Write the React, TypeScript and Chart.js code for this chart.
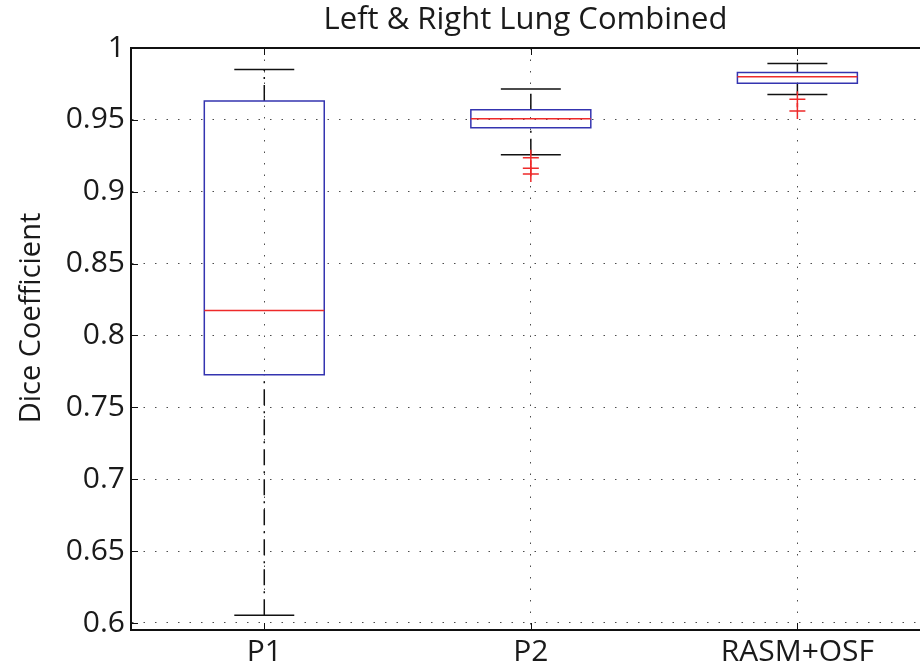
import React, { useEffect, useRef } from "react";
import { Chart, registerables } from "chart.js";

Chart.register(...registerables);

// ---- data ----
const categories = ["P1", "P2", "RASM+OSF"];
const whiskerHigh = [0.985, 0.9715, 0.9892];
const upperQuartile = [0.9631, 0.9571, 0.9829];
const medians = [0.8174, 0.9508, 0.98];
const lowerQuartile = [0.7726, 0.9445, 0.9754];
const whiskerLow = [0.6053, 0.9257, 0.9676];
const outliers: number[][] = [[], [0.9236, 0.9163, 0.9123], [0.9643, 0.9561]];
const yTicks = [0.6, 0.65, 0.7, 0.75, 0.8, 0.85, 0.9, 0.95, 1];
const yTickLabels = ["0.6", "0.65", "0.7", "0.75", "0.8", "0.85", "0.9", "0.95", "1"];
const chartTitle = "Left & Right Lung Combined";
const yAxisTitle = "Dice Coefficient";

// ---- style ----
const FONT = '"Open Sans", "DejaVu Sans", sans-serif';
const BOX_HALF = 0.225;
const CAP_HALF = 0.1125;
const BLUE = "#3434b0";
const RED = "#ee2a2a";
const BLACK = "#111111";
const TEXT = "#1a1a1a";

type P = { x: number; y: number | null };

function buildData() {
  const box: P[] = [];
  const med: P[] = [];
  const whisk: P[] = [];
  const caps: P[] = [];
  const outs: P[] = [];
  categories.forEach((_, i) => {
    const x = i + 1;
    box.push(
      { x: x - BOX_HALF, y: lowerQuartile[i] },
      { x: x + BOX_HALF, y: lowerQuartile[i] },
      { x: x + BOX_HALF, y: upperQuartile[i] },
      { x: x - BOX_HALF, y: upperQuartile[i] },
      { x: x - BOX_HALF, y: lowerQuartile[i] },
      { x, y: null }
    );
    med.push({ x: x - BOX_HALF, y: medians[i] }, { x: x + BOX_HALF, y: medians[i] }, { x, y: null });
    whisk.push(
      { x, y: upperQuartile[i] },
      { x, y: whiskerHigh[i] },
      { x, y: null },
      { x, y: whiskerLow[i] },
      { x, y: lowerQuartile[i] },
      { x, y: null }
    );
    caps.push(
      { x: x - CAP_HALF, y: whiskerHigh[i] },
      { x: x + CAP_HALF, y: whiskerHigh[i] },
      { x, y: null },
      { x: x - CAP_HALF, y: whiskerLow[i] },
      { x: x + CAP_HALF, y: whiskerLow[i] },
      { x, y: null }
    );
    outliers[i].forEach((v) => outs.push({ x, y: v }));
  });
  return { box, med, whisk, caps, outs };
}

const framePlugin = {
  id: "matlabFrame",
  afterDraw(chart: any) {
    const { ctx, chartArea } = chart;
    const { left, right, top, bottom } = chartArea;
    const xs = chart.scales.x;
    const ys = chart.scales.y;
    ctx.save();
    // top border
    ctx.strokeStyle = BLACK;
    ctx.lineWidth = 2;
    ctx.beginPath();
    ctx.moveTo(left - 1, top);
    ctx.lineTo(right, top);
    ctx.stroke();
    // inward ticks
    ctx.lineWidth = 1;
    ctx.beginPath();
    yTicks.forEach((v) => {
      const py = Math.round(ys.getPixelForValue(v)) + 0.5;
      ctx.moveTo(left, py);
      ctx.lineTo(left + 7, py);
    });
    categories.forEach((_, i) => {
      const px = Math.round(xs.getPixelForValue(i + 1)) + 0.5;
      ctx.moveTo(px, bottom);
      ctx.lineTo(px, bottom - 7);
      ctx.moveTo(px, top);
      ctx.lineTo(px, top + 7);
    });
    ctx.stroke();
    // y axis title
    ctx.fillStyle = TEXT;
    ctx.font = `29px ${FONT}`;
    ctx.textAlign = "center";
    ctx.textBaseline = "alphabetic";
    ctx.translate(40, (top + bottom) / 2 - 21);
    ctx.rotate(-Math.PI / 2);
    ctx.fillText(yAxisTitle, 0, 0);
    ctx.restore();
  },
};

export default function App() {
  const ref = useRef<HTMLCanvasElement | null>(null);
  useEffect(() => {
    if (!ref.current) return;
    const d = buildData();
    const lineBase = {
      type: "line" as const,
      showLine: true,
      pointRadius: 0,
      tension: 0,
      fill: false,
      spanGaps: false,
      borderWidth: 1.5,
      borderJoinStyle: "miter" as const,
    };
    const chart = new Chart(ref.current, {
      type: "line",
      data: {
        datasets: [
          { ...lineBase, label: "whiskers", data: d.whisk as any, borderColor: BLACK, borderDash: [16, 6, 2, 6], order: 5 },
          { ...lineBase, label: "caps", data: d.caps as any, borderColor: BLACK, order: 4 },
          { ...lineBase, label: "boxes", data: d.box as any, borderColor: BLUE, borderCapStyle: "square", order: 3 },
          { ...lineBase, label: "medians", data: d.med as any, borderColor: RED, order: 2 },
          {
            type: "line",
            label: "outliers",
            data: d.outs as any,
            showLine: false,
            pointStyle: "cross",
            pointRadius: 8,
            pointBorderColor: RED,
            pointBorderWidth: 1.5,
            pointBackgroundColor: RED,
            order: 1,
          },
        ],
      },
      options: {
        animation: false,
        responsive: false,
        maintainAspectRatio: false,
        layout: { padding: 0, autoPadding: false },
        plugins: {
          legend: { display: false },
          tooltip: { enabled: false },
          title: {
            display: true,
            text: chartTitle,
            fullSize: false,
            color: TEXT,
            font: { family: FONT, size: 31, weight: "normal" },
            padding: { top: 2, bottom: 8.8 },
          },
        },
        scales: {
          x: {
            type: "linear",
            min: 0.5,
            max: 3.46,
            bounds: "data",
            afterBuildTicks: (s: any) => {
              s.ticks = categories.map((_, i) => ({ value: i + 1 }));
            },
            afterFit: (s: any) => {
              s.height = 37;
              s.paddingLeft = 0;
              s.paddingRight = 0;
            },
            ticks: {
              autoSkip: false,
              maxRotation: 0,
              padding: 4,
              color: TEXT,
              font: { family: FONT, size: 30 },
              callback: (_v: any, i: number) => categories[i],
            },
            grid: { drawTicks: false, color: "rgba(0,0,0,0.7)", lineWidth: 1 },
            border: { display: true, color: BLACK, width: 2, dash: [1.5, 10] },
          },
          y: {
            type: "linear",
            min: 0.5951,
            max: 1,
            bounds: "data",
            afterBuildTicks: (s: any) => {
              s.ticks = yTicks.map((v) => ({ value: v }));
            },
            afterFit: (s: any) => {
              s.width = 131;
            },
            ticks: {
              autoSkip: false,
              padding: 6,
              color: TEXT,
              font: { family: FONT, size: 30 },
              callback: (_v: any, i: number) => yTickLabels[i],
            },
            grid: { drawTicks: false, color: "rgba(0,0,0,0.7)", lineWidth: 1 },
            border: { display: true, color: BLACK, width: 2, dash: [1.5, 10] },
          },
        },
      } as any,
      plugins: [framePlugin],
    });
    return () => chart.destroy();
  }, []);
  return (
    <div style={{ position: "fixed", left: 0, top: 0, width: 920, height: 667, background: "#fff" }}>
      <canvas ref={ref} width={920} height={667} style={{ display: "block" }} />
    </div>
  );
}
